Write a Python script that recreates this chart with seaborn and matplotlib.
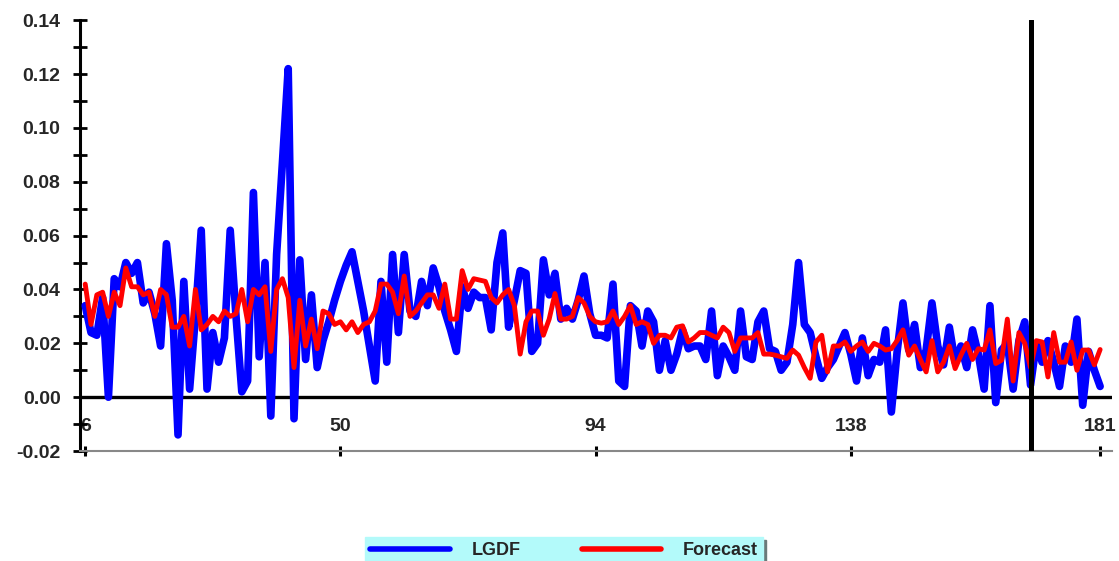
import matplotlib
matplotlib.use("Agg")
import matplotlib.pyplot as plt
import seaborn as sns
import numpy as np
import pandas as pd
from matplotlib.lines import Line2D

periods = list(range(6, 182))

lgdf = [
    0.034, 0.024, 0.023, 0.037, 0.000, 0.044, 0.041, 0.050, 0.046, 0.050,   # 6-15
    0.035, 0.039, 0.031, 0.019, 0.057, 0.036, -0.014, 0.043, 0.003, 0.030,  # 16-25
    0.062, 0.003, 0.024, 0.013, 0.022, 0.062, 0.030, 0.002, 0.006, 0.076,   # 26-35
    0.015, 0.050, -0.007, 0.053, 0.087, 0.122, -0.008, 0.051, 0.014, 0.038, # 36-45
    0.011, 0.021, 0.028, 0.036, 0.043, 0.049, 0.054, 0.043, 0.032, 0.019,   # 46-55
    0.006, 0.043, 0.013, 0.053, 0.024, 0.053, 0.032, 0.030, 0.043, 0.034,   # 56-65
    0.048, 0.041, 0.032, 0.025, 0.017, 0.041, 0.033, 0.039, 0.037, 0.037,   # 66-75
    0.025, 0.050, 0.061, 0.026, 0.036, 0.047, 0.046, 0.017, 0.020, 0.051,   # 76-85
    0.038, 0.046, 0.029, 0.033, 0.029, 0.036, 0.045, 0.031, 0.023, 0.023,   # 86-95
    0.022, 0.042, 0.006, 0.004, 0.034, 0.032, 0.019, 0.032, 0.028, 0.010,   # 96-105
    0.021, 0.010, 0.016, 0.025, 0.018, 0.019, 0.019, 0.014, 0.032, 0.008,   # 106-115
    0.019, 0.015, 0.010, 0.032, 0.015, 0.014, 0.028, 0.032, 0.018, 0.017,   # 116-125
    0.010, 0.013, 0.027, 0.050, 0.027, 0.024, 0.015, 0.007, 0.011, 0.014,   # 126-135
    0.019, 0.024, 0.016, 0.006, 0.022, 0.008, 0.014, 0.013, 0.025, -0.0055, # 136-145
    0.017, 0.035, 0.0175, 0.027, 0.011, 0.0175, 0.035, 0.019, 0.012, 0.026, # 146-155
    0.013, 0.019, 0.011, 0.025, 0.016, 0.003, 0.034, -0.002, 0.0175, 0.020, # 156-165
    0.003, 0.021, 0.028, 0.0045, 0.020, 0.013, 0.021, 0.013, 0.004, 0.019,  # 166-175
    0.013, 0.029, -0.003, 0.017, 0.010, 0.004,                              # 176-181
]

forecast = [
    0.042, 0.027, 0.038, 0.039, 0.030, 0.039, 0.034, 0.048, 0.041, 0.041,   # 6-15
    0.038, 0.039, 0.030, 0.040, 0.038, 0.026, 0.026, 0.030, 0.019, 0.040,   # 16-25
    0.025, 0.027, 0.030, 0.028, 0.032, 0.030, 0.031, 0.040, 0.028, 0.040,   # 26-35
    0.038, 0.041, 0.017, 0.040, 0.044, 0.037, 0.011, 0.036, 0.019, 0.029,   # 36-45
    0.018, 0.032, 0.031, 0.027, 0.028, 0.025, 0.028, 0.024, 0.027, 0.028,   # 46-55
    0.032, 0.042, 0.042, 0.039, 0.031, 0.045, 0.030, 0.032, 0.035, 0.038,   # 56-65
    0.038, 0.033, 0.042, 0.029, 0.029, 0.047, 0.040, 0.044, 0.0435, 0.043,  # 66-75
    0.037, 0.035, 0.038, 0.040, 0.034, 0.016, 0.028, 0.032, 0.032, 0.023,   # 76-85
    0.029, 0.0385, 0.029, 0.029, 0.030, 0.037, 0.035, 0.030, 0.028, 0.0275, # 86-95
    0.028, 0.032, 0.027, 0.030, 0.034, 0.027, 0.028, 0.027, 0.020, 0.023,   # 96-105
    0.023, 0.022, 0.026, 0.0265, 0.0205, 0.022, 0.024, 0.024, 0.023, 0.022, # 106-115
    0.026, 0.024, 0.017, 0.022, 0.022, 0.022, 0.024, 0.016, 0.016, 0.0156,  # 116-125
    0.015, 0.0144, 0.0175, 0.0156, 0.011, 0.007, 0.0205, 0.023, 0.0094, 0.019, # 126-135
    0.019, 0.0205, 0.017, 0.019, 0.0205, 0.017, 0.020, 0.019, 0.0175, 0.018,  # 136-145
    0.021, 0.025, 0.0156, 0.019, 0.014, 0.0094, 0.021, 0.0094, 0.013, 0.019,  # 146-155
    0.0106, 0.0156, 0.020, 0.014, 0.018, 0.0175, 0.025, 0.0125, 0.0137, 0.029, # 156-165
    0.006, 0.024, 0.020, 0.011, 0.021, 0.0205, 0.0075, 0.024, 0.013, 0.013,   # 166-175
    0.0205, 0.010, 0.0175, 0.0175, 0.012, 0.0177,                             # 176-181
]

xtick_values = [6, 50, 94, 138, 181]
ytick_values = [-0.02, 0.00, 0.02, 0.04, 0.06, 0.08, 0.10, 0.12, 0.14]
forecast_start = 169

df = pd.DataFrame({"period": periods, "LGDF": lgdf, "Forecast": forecast})

sns.set_theme(style="white")
plt.rcParams["font.family"] = ["Liberation Sans", "DejaVu Sans"]
plt.rcParams["font.weight"] = "bold"

fig = plt.figure(figsize=(11.19, 5.61), dpi=100)
ax = fig.add_axes([0.0715, 0.196, 0.922, 0.768])

sns.lineplot(data=df, x="period", y="LGDF", ax=ax, color="#0000ff",
             linewidth=5.5, solid_capstyle="round", solid_joinstyle="round", zorder=3)
sns.lineplot(data=df, x="period", y="Forecast", ax=ax, color="#ff0000",
             linewidth=3.5, solid_capstyle="round", solid_joinstyle="round", zorder=4)

ax.axhline(0, color="black", linewidth=2.4, zorder=2)
ax.axvline(forecast_start, color="black", linewidth=3.6, zorder=5)

ax.set_xlim(5.1, 183.0)
ax.set_ylim(-0.02, 0.14)
ax.set_xticks(xtick_values)
ax.set_xticklabels([str(v) for v in xtick_values])
ax.set_yticks(ytick_values)
ax.set_yticklabels([f"{v:.2f}" for v in ytick_values])
ax.set_yticks(np.arange(-0.01, 0.14, 0.02), minor=True)
ax.set_xlabel("")
ax.set_ylabel("")

for s in ["top", "right"]:
    ax.spines[s].set_visible(False)
ax.spines["left"].set_color("black")
ax.spines["left"].set_linewidth(2.2)
ax.spines["bottom"].set_color("#888888")
ax.spines["bottom"].set_linewidth(1.5)

ax.tick_params(axis="y", which="both", direction="inout", length=10, width=2.0,
               color="black", left=True, labelsize=14, pad=9)
ax.tick_params(axis="x", which="major", direction="inout", length=7, width=2.2,
               color="black", bottom=True, labelsize=14, pad=-27)
for lab in ax.get_xticklabels() + ax.get_yticklabels():
    lab.set_fontweight("bold")

handles = [Line2D([], [], color="#0000ff", linewidth=4.0, solid_capstyle="round"),
           Line2D([], [], color="#ff0000", linewidth=4.0, solid_capstyle="round")]
leg = fig.legend(handles, ["LGDF", "Forecast"], loc="upper center",
                 bbox_to_anchor=(0.504, 0.043), ncol=2, frameon=True,
                 fancybox=False, shadow={"color": "#6a7a7a", "alpha": 1.0},
                 facecolor="#b3fafa", edgecolor="#b3fafa", framealpha=1.0,
                 prop={"weight": "bold", "size": 13},
                 handlelength=4.4, handletextpad=1.2, columnspacing=3.4,
                 borderpad=0.3, borderaxespad=0.0)

fig.savefig("out.png", dpi=100)
